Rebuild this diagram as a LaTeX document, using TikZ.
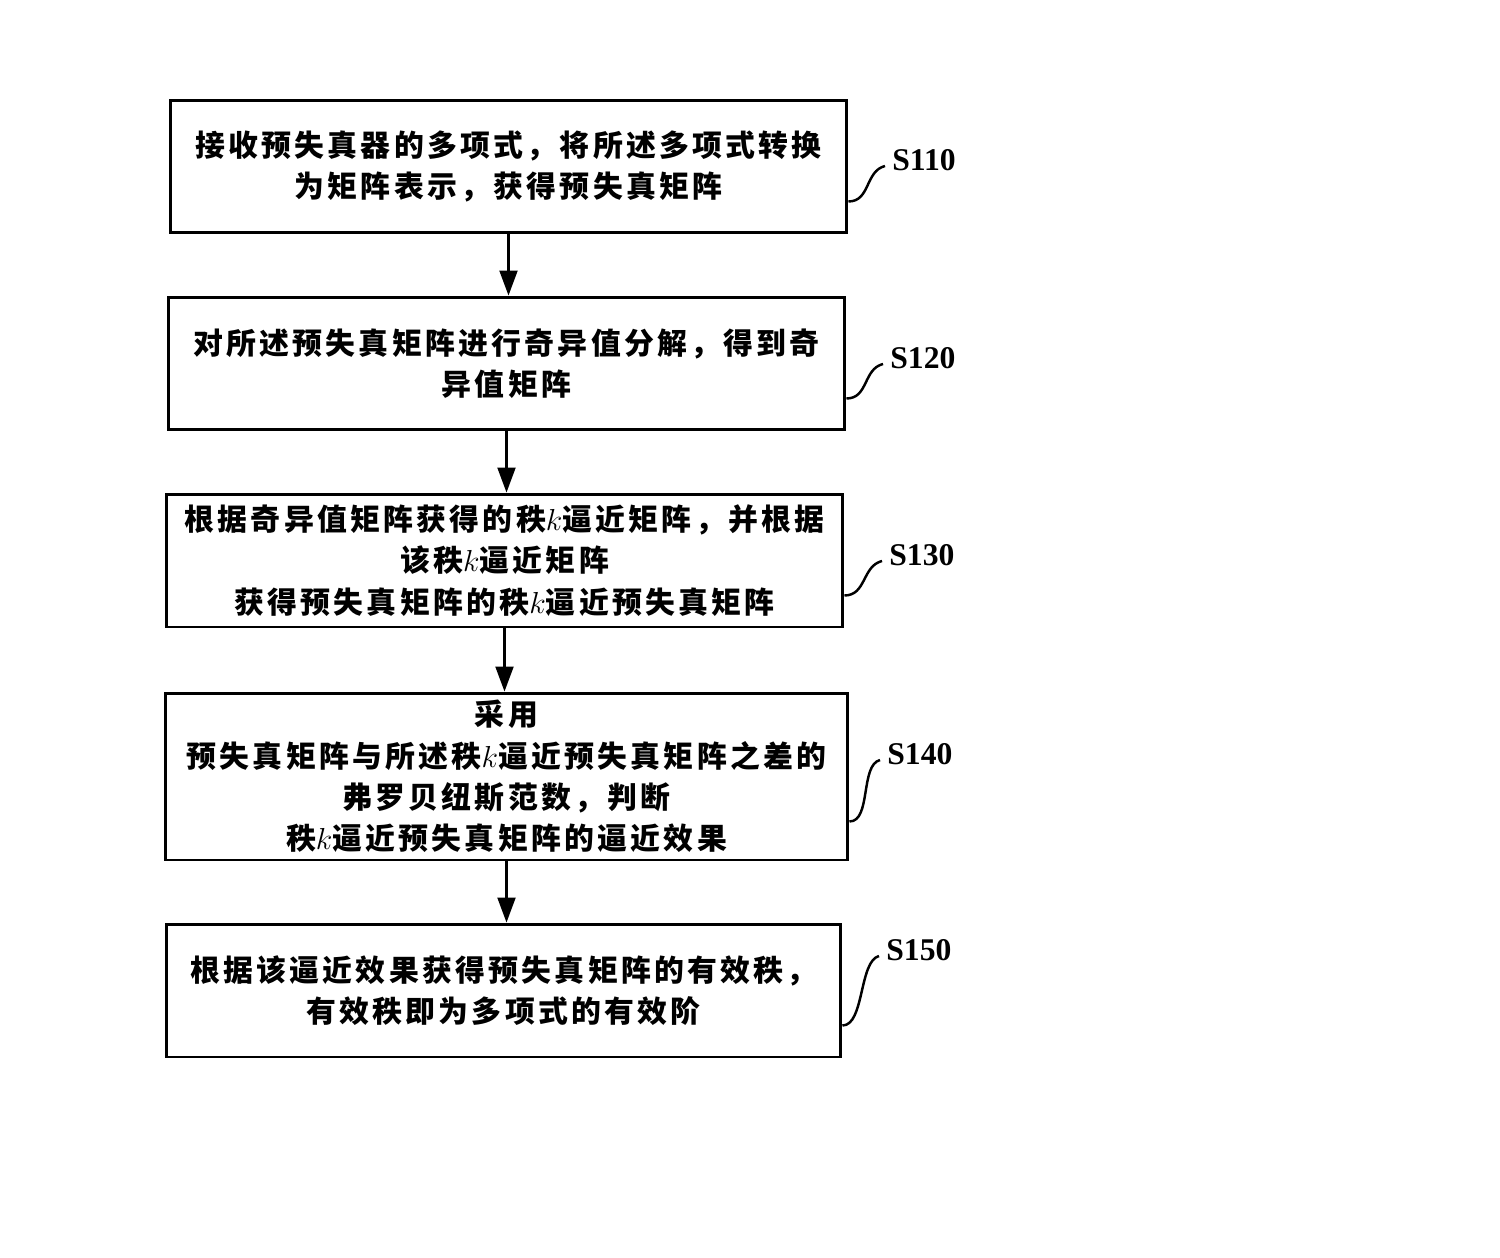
\documentclass[tikz,border=0pt]{standalone}
\usepackage{fontspec}
\usepackage{amsmath}
\usetikzlibrary{arrows.meta}
\newfontfamily\cjk[LetterSpace=11]{Noto Sans CJK SC}
\newfontfamily\lblfont{Liberation Serif}

\begin{document}
\begin{tikzpicture}[x=0.02cm,y=-0.02cm,
    stepbox/.style={draw=black,line width=1.7pt,inner sep=0pt,align=center,
        font=\cjk\bfseries\fontsize{17pt}{23.6pt}\selectfont},
    steplabel/.style={anchor=west,inner sep=0pt,font=\lblfont\bfseries\fontsize{18pt}{20pt}\selectfont},
    flow/.style={line width=1.2pt,-{Triangle[length=0.5cm,width=0.36cm]}},
    squig/.style={line width=1.4pt}]
    \useasboundingbox (0,0) rectangle (1500,1257);
    % steps
    \node [stepbox,minimum width=13.54cm,minimum height=2.66cm] (b1) at (508.5,166.5)
        {接收预失真器的多项式，将所述多项式转换\\为矩阵表示，获得预失真矩阵};
    \node [stepbox,minimum width=13.54cm,minimum height=2.66cm] (b2) at (506.5,363.5)
        {对所述预失真矩阵进行奇异值分解，得到奇\\异值矩阵};
    \node [stepbox,minimum width=13.54cm,minimum height=2.66cm] (b3) at (504.5,560.5)
        {根据奇异值矩阵获得的秩$k$逼近矩阵，并根据\\该秩$k$逼近矩阵\\获得预失真矩阵的秩$k$逼近预失真矩阵};
    \node [stepbox,minimum width=13.66cm,minimum height=3.34cm] (b4) at (506.5,776.5)
        {采用\\预失真矩阵与所述秩$k$逼近预失真矩阵之差的\\弗罗贝纽斯范数，判断\\秩$k$逼近预失真矩阵的逼近效果};
    \node [stepbox,minimum width=13.5cm,minimum height=2.66cm] (b5) at (503.5,990.5)
        {根据该逼近效果获得预失真矩阵的有效秩，\\有效秩即为多项式的有效阶};
    % arrows
    \draw [flow] (b1.south) -- (b1.south |- b2.north);
    \draw [flow] (b2.south) -- (b2.south |- b3.north);
    \draw [flow] (b3.south) -- (b3.south |- b4.north);
    \draw [flow] (b4.south) -- (b4.south |- b5.north);
    % step labels
    \node [steplabel] (l1) at (892,160) {S110};
    \node [steplabel] (l2) at (890,358) {S120};
    \node [steplabel] (l3) at (889,555) {S130};
    \node [steplabel] (l4) at (887,754) {S140};
    \node [steplabel] (l5) at (886,950) {S150};
    \coordinate (e1) at (885,166);
    \coordinate (e2) at (883,364);
    \coordinate (e3) at (882,561);
    \coordinate (e4) at (880,760);
    \coordinate (e5) at (879,956);
    \draw [squig] ([yshift=-0.7cm]b1.east) .. controls +(22,0) and +(-20,5) .. (e1);
    \draw [squig] ([yshift=-0.7cm]b2.east) .. controls +(22,0) and +(-20,5) .. (e2);
    \draw [squig] ([yshift=-0.7cm]b3.east) .. controls +(22,0) and +(-20,5) .. (e3);
    \draw [squig] ([yshift=-0.9cm]b4.east) .. controls +(22,0) and +(-20,5) .. (e4);
    \draw [squig] ([yshift=-0.7cm]b5.east) .. controls +(22,0) and +(-20,5) .. (e5);
\end{tikzpicture}
\end{document}
